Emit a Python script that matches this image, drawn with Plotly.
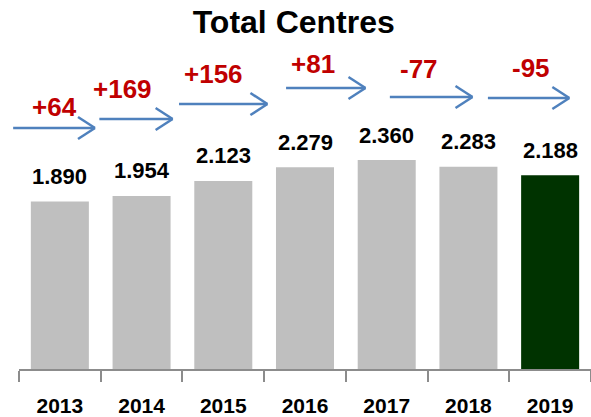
import plotly.graph_objects as go

years = ["2013", "2014", "2015", "2016", "2017", "2018", "2019"]
centres = [1890, 1954, 2123, 2279, 2360, 2283, 2188]
value_labels = ["1.890", "1.954", "2.123", "2.279", "2.360", "2.283", "2.188"]
deltas = [centres[i + 1] - centres[i] for i in range(len(centres) - 1)]

# arrow decorations (category-index x, data-unit y)
arrow_x0 = [-0.59, 0.465, 1.44, 2.75, 4.02, 5.22]
arrow_x1 = [0.43, 1.38, 2.54, 3.74, 5.05, 6.235]
arrow_y = [2721, 2823, 2992, 3173, 3071, 3060]
label_x = [-0.06, 0.77, 1.88, 3.10, 4.40, 5.76]
label_y = [2953, 3167, 3331, 3444, 3387, 3404]

FONT = "Liberation Sans, Arial, sans-serif"
GRAY = "#BFBFBF"
GREEN = "#003300"
BLUE = "#4F81BD"
RED = "#C00000"

colors = [GRAY] * (len(years) - 1) + [GREEN]

fig = go.Figure(go.Bar(x=years, y=centres, marker=dict(color=colors, line=dict(width=0)),
                       hoverinfo="skip"))

annotations = []
for i, (v, t) in enumerate(zip(centres, value_labels)):
    annotations.append(dict(x=i, y=v, xref="x", yref="y", text=t, showarrow=False,
                            yanchor="middle", yshift=25,
                            font=dict(family=FONT, size=22, color="black", weight="bold")))
shapes = []
for i, d in enumerate(deltas):
    txt = f"+{d}" if d > 0 else f"-{abs(d)}"
    annotations.append(dict(x=label_x[i], y=label_y[i], xref="x", yref="y", text=txt,
                            showarrow=False, yanchor="middle",
                            font=dict(family=FONT, size=26, color=RED, weight="bold")))
    # arrow shaft (annotation so it is not clipped at the plot edge)
    annotations.append(dict(x=arrow_x1[i], y=arrow_y[i], xref="x", yref="y",
                            ax=arrow_x0[i], ay=arrow_y[i], axref="x", ayref="y",
                            text="", showarrow=True, arrowhead=0, arrowwidth=2.5,
                            arrowcolor=BLUE, standoff=0, startstandoff=0))
    for s in (1, -1):
        shapes.append(dict(type="line", xref="x", yref="y", xsizemode="pixel", ysizemode="pixel",
                           xanchor=arrow_x1[i], yanchor=arrow_y[i],
                           x0=-17, y0=11 * s, x1=0, y1=0, line=dict(color=BLUE, width=2.5)))

fig.update_layout(
    width=591, height=417,
    margin=dict(l=19, r=0, t=40, b=48, autoexpand=False),
    paper_bgcolor="white", plot_bgcolor="white",
    bargap=0.29,
    showlegend=False,
    title=dict(text="Total Centres", x=0.497, xanchor="center", y=1 - 22 / 417, yanchor="middle",
               font=dict(family=FONT, size=32, color="black", weight="bold")),
    annotations=annotations,
    shapes=shapes,
    xaxis=dict(range=[-0.5, 6.5], autorange=False, showline=True, linecolor="#8C8C8C",
               linewidth=1.5, ticks="outside",
               tickson="boundaries", ticklen=11, tickcolor="#8C8C8C", tickwidth=1.5,
               ticklabelstandoff=17, showgrid=False, zeroline=False, automargin=False,
               tickfont=dict(family=FONT, size=21, color="black", weight="bold")),
    yaxis=dict(visible=False, range=[0, 3715], autorange=False, automargin=False),
)

fig.write_html("out.html", config={"displayModeBar": False},
               post_script="document.body.style.margin='0';")
